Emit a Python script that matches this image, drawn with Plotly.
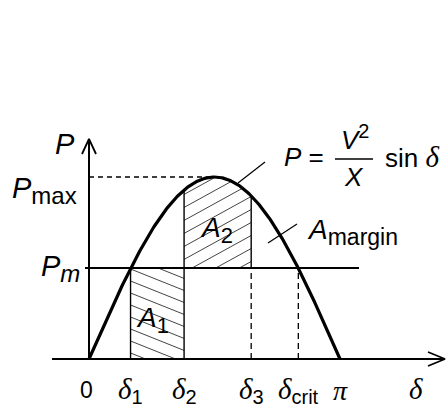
import numpy as np
import plotly.graph_objects as go

# values (angles in rad, power in units of P_max)
tick_text = ["0", "δ1", "δ2", "δ3", "δcrit", "π"]
delta_1 = 0.52
delta_2 = 1.19
delta_3 = 2.03
delta_crit = 2.62
tick_vals = [0.0, delta_1, delta_2, delta_3, delta_crit, np.pi]
p_max = 1.0
p_m = 0.5

W, H = 446, 405
x_rng = [-1.1140, 4.4684]
y_rng = [-0.25275, 1.97253]
KX = W / (x_rng[1] - x_rng[0])
KY = H / (y_rng[1] - y_rng[0])


def px_x(px):
    return x_rng[0] + px / KX


def px_y(py):
    return y_rng[1] - py / KY


def power(d):
    return p_max * np.sin(d)


def hatch(lo, hi, bottom, top, slope_px, gap_px):
    # straight hatch lines clipped to the region bottom(d) <= p <= top(d)
    s = slope_px * KX / KY
    gap = gap_px / KY
    d = np.linspace(lo, hi, 600)
    b = bottom(d)
    t = top(d)
    c_lo = (b - s * (d - lo)).min()
    c_hi = (t - s * (d - lo)).max()
    xs, ys = [], []
    for c in np.arange(c_lo + gap / 2, c_hi, gap):
        p = c + s * (d - lo)
        idx = np.where((p >= b) & (p <= t))[0]
        if len(idx) > 1:
            xs += [d[idx[0]], d[idx[-1]], None]
            ys += [p[idx[0]], p[idx[-1]], None]
    return xs, ys


fig = go.Figure()


def seg(x, y, width=1.5, dash="solid", color="black"):
    fig.add_trace(go.Scatter(x=x, y=y, mode="lines", hoverinfo="skip",
                             line=dict(color=color, width=width, dash=dash)))


# hatching
hx, hy = hatch(delta_1, delta_2, lambda d: 0 * d, lambda d: 0 * d + p_m, -0.4, 12)
seg(hx, hy, width=1, color="#444")
hx, hy = hatch(delta_2, delta_3, lambda d: 0 * d + p_m, power, 0.55, 13)
seg(hx, hy, width=1, color="#444")

# axes with open arrow heads
seg([px_x(52), px_x(445)], [0, 0], width=2)
seg([px_x(428), px_x(445), px_x(428)], [px_y(352), px_y(359), px_y(366)], width=1.8)
seg([0, 0], [0, px_y(139)], width=2)
seg([px_x(82), 0, px_x(96)], [px_y(154), px_y(139), px_y(154)], width=1.8)

# P_m and P_max levels
seg([px_x(85), px_x(359)], [p_m, p_m], width=2)
seg([0, np.pi / 2], [p_max, p_max], width=1.3, dash="5px,4px")

# angle markers
seg([delta_1, delta_1], [0, p_m], width=1.4)
seg([delta_2, delta_2], [0, power(delta_2)], width=1.4)
seg([delta_3, delta_3], [p_m, power(delta_3)], width=1.4)
seg([delta_3, delta_3], [0, p_m], width=1.3, dash="6px,4px")
seg([delta_crit, delta_crit], [0, p_m], width=1.3, dash="6px,4px")

# power-angle curve
d = np.linspace(0, np.pi, 300)
seg(d, power(d), width=3.2)

# leader lines and fraction bar
seg([px_x(238), px_x(265)], [px_y(183), px_y(162)], width=1.2)
seg([px_x(268), px_x(297)], [px_y(243), px_y(224)], width=1.2)
seg([px_x(335), px_x(373)], [px_y(159), px_y(159)], width=1.6)

SANS = "Liberation Sans"
SERIF = "Liberation Serif"


def sized(text, size, family=None):
    fam = "font-family:'%s';" % family if family else ""
    return "<span style=\"%sfont-size:%dpx\">%s</span>" % (fam, size, text)


def delta(size):
    return sized("<i>δ</i>", size, SERIF)


def sub(text, size):
    return "<sub>" + sized(text, size) + "</sub>"


def label(text, px, py, size=26, family=SANS, data_x=None, xshift=0):
    fig.add_annotation(x=data_x if data_x is not None else px_x(px), y=px_y(py),
                       text=text, showarrow=False, xanchor="center", yanchor="middle",
                       xshift=xshift, font=dict(family=family, size=size, color="black"))


label("<i>P</i>", 65, 144, 29)
label("<i>P</i>" + sub("max", 24), 44, 190, 29)
label("<i>P</i>" + sub("<i>m</i>", 24), 60, 268, 29)
label("<i>A</i>" + sub("1", 22), 152, 320, 28)
label("<i>A</i>" + sub("2", 22), 216, 230, 28)
label("<i>A</i>" + sub("margin", 23), 352, 232, 28)
label("<i>P</i> =", 304, 157, 26)
label("<i>V</i><sup>" + sized("2", 20) + "</sup>", 355, 137, 26)
label("<i>X</i>", 354, 177, 26)
label("sin " + delta(29), 412, 157, 26)

for val, txt in zip(tick_vals, tick_text):
    if txt == "0":
        label("0", 0, 390, 23, data_x=val, xshift=-3)
    elif txt == "π":
        label(sized("<i>π</i>", 28, SERIF), 0, 390, 23, data_x=val)
    else:
        label(delta(29) + sub(txt[1:], 20), 0, 390, 23, data_x=val)
label(delta(29), 416, 389, 23)

fig.update_layout(
    width=W, height=H, margin=dict(l=0, r=0, t=0, b=0),
    paper_bgcolor="white", plot_bgcolor="white", showlegend=False,
    xaxis=dict(range=x_rng, visible=False, fixedrange=True),
    yaxis=dict(range=y_rng, visible=False, fixedrange=True),
)

# the page body has a default margin; drop it so the figure fills the window
fig.write_html("out.html", config={"displayModeBar": False},
               post_script="document.body.style.margin='0';"
                           "document.body.style.overflow='hidden';")
